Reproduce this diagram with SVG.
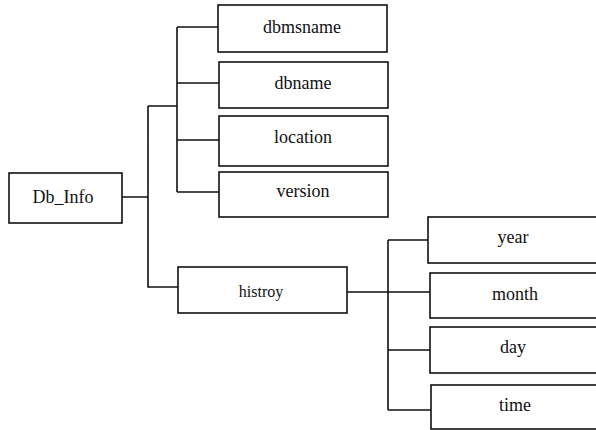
<svg xmlns="http://www.w3.org/2000/svg" width="596" height="430" viewBox="0 0 596 430">
<style>
.box{fill:#fff;stroke:#111;stroke-width:1.6}
.t{font-family:"Liberation Serif",serif;font-size:18px;fill:#111;text-anchor:middle}
.s{font-size:16px}
.c{fill:none;stroke:#111;stroke-width:1.6}
</style>
<rect width="596" height="430" fill="#fff"/>
<g id="connectors">
<path class="c" d="M122 197H148M148 106V287H178M148 106H177M177 27V192M177 27H218M177 83H219M177 140H219M177 192H219"/>
<path class="c" d="M347 292H430M388 240V410M388 240H428M388 350H430M388 410H431"/>
</g>
<g id="db_info"><rect class="box" x="9" y="173" width="113" height="50"/><text class="t" x="63" y="203">Db_Info</text></g>
<g id="dbmsname"><rect class="box" x="218" y="5" width="169" height="47"/><text class="t" x="302" y="33">dbmsname</text></g>
<g id="dbname"><rect class="box" x="219" y="62" width="169" height="46"/><text class="t" x="303" y="89">dbname</text></g>
<g id="location"><rect class="box" x="219" y="116" width="169" height="50"/><text class="t" x="303" y="143">location</text></g>
<g id="version"><rect class="box" x="219" y="172" width="169" height="45"/><text class="t" x="303" y="197">version</text></g>
<g id="histroy"><rect class="box" x="178" y="267" width="169" height="46"/><text class="t s" x="261" y="297">histroy</text></g>
<g id="year"><rect class="box" x="428" y="217" width="175" height="46"/><text class="t" x="513" y="243">year</text></g>
<g id="month"><rect class="box" x="430" y="273" width="175" height="45"/><text class="t" x="515" y="300">month</text></g>
<g id="day"><rect class="box" x="430" y="327" width="175" height="46"/><text class="t" x="513" y="353">day</text></g>
<g id="time"><rect class="box" x="431" y="385" width="175" height="44"/><text class="t" x="515" y="411">time</text></g>
</svg>
